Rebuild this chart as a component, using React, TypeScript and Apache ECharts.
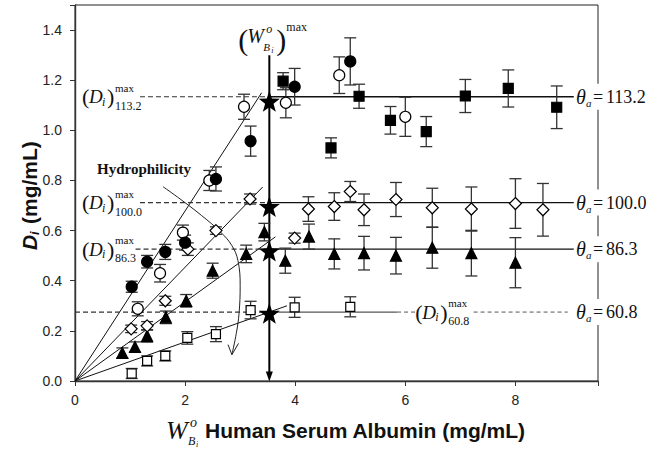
import React, { useEffect, useRef } from "react";
import * as echarts from "echarts";

type P = [number, number, number];

const X_TICKS = [0, 2, 4, 6, 8];
const Y_TICKS = [0, 0.2, 0.4, 0.6, 0.8, 1.0, 1.2, 1.4];

// [W (mg/mL), D (mg/mL), error]
const filledCircles: P[] = [
  [1.03, 0.376, 0.022], [1.31, 0.476, 0.025], [1.64, 0.515, 0.03], [2.0, 0.552, 0.03],
  [2.56, 0.806, 0.048], [3.19, 0.957, 0.06], [3.99, 1.174, 0.073], [5.0, 1.275, 0.094],
];
const openCircles: P[] = [
  [1.14, 0.288, 0.028], [1.545, 0.43, 0.035], [1.96, 0.592, 0.03], [2.44, 0.8, 0.04],
  [3.07, 1.094, 0.05], [3.83, 1.11, 0.06], [4.8, 1.22, 0.073], [6.0, 1.054, 0.078],
];
const filledSquares: P[] = [
  [3.78, 1.196, 0.034], [4.65, 0.93, 0.04], [5.16, 1.136, 0.048], [5.73, 1.04, 0.055],
  [6.38, 0.995, 0.06], [7.09, 1.137, 0.066], [7.87, 1.167, 0.074], [8.75, 1.092, 0.085],
];
const openDiamonds: P[] = [
  [1.02, 0.208, 0.015], [1.31, 0.22, 0.017], [1.64, 0.32, 0.018], [2.05, 0.526, 0.025],
  [2.56, 0.6, 0.015], [3.18, 0.726, 0.02], [3.99, 0.57, 0.02], [4.24, 0.686, 0.049],
  [4.71, 0.696, 0.055], [5.0, 0.756, 0.04], [5.25, 0.683, 0.063], [5.83, 0.724, 0.068],
  [6.49, 0.691, 0.078], [7.2, 0.686, 0.088], [8.0, 0.708, 0.099], [8.5, 0.683, 0.105],
];
const filledTriangles: P[] = [
  [0.86, 0.112, 0.02], [1.09, 0.136, 0.02], [1.31, 0.18, 0.025], [1.65, 0.254, 0.025],
  [2.02, 0.32, 0.025], [2.5, 0.44, 0.03], [3.11, 0.507, 0.035], [3.44, 0.594, 0.035],
  [3.82, 0.48, 0.05], [4.25, 0.576, 0.05], [4.71, 0.507, 0.06], [5.25, 0.51, 0.067],
  [5.83, 0.5, 0.073], [6.49, 0.532, 0.082], [7.2, 0.51, 0.091], [8.0, 0.472, 0.1],
];
const openSquares: P[] = [
  [1.03, 0.03, 0.02], [1.31, 0.08, 0.02], [1.64, 0.1, 0.02], [2.04, 0.172, 0.025],
  [2.56, 0.187, 0.03], [3.19, 0.283, 0.035], [3.99, 0.294, 0.04], [5.0, 0.296, 0.04],
];

const fitLineEnds: [number, number][] = [[3.39, 1.15], [3.41, 0.774], [3.64, 0.575], [3.85, 0.3]];
const W_MAX = 3.53;
const W_TOP = 1.3;
const starY = [1.116, 0.696, 0.519, 0.27];
const dMaxLevels = [1.134, 0.712, 0.526, 0.275];
const thetaLabels = ["113.2", "100.0", "86.3", "60.8"];
const dashStart = [1.18, 1.18, 1.1, 0];
const solidEnd = [9.06, 9.06, 9.06, 5.85];
const extraDash: [number, number][] = [[5.85, 6.18], [7.24, 8.95]];
const hydroCurve: [number, number][] = [
  [1.6, 0.775], [1.91, 0.726], [2.3, 0.66], [2.64, 0.595], [2.85, 0.54], [2.96, 0.48],
  [3.0, 0.38], [2.98, 0.27], [2.93, 0.19], [2.85, 0.105],
];
const arrowHead: [number, number][] = [[2.78, 0.145], [2.85, 0.105], [2.97, 0.15]];

const SERIF = "'Liberation Serif', 'Times New Roman', serif";
const SANS = "'Liberation Sans', Arial, sans-serif";
const STAR =
  "path://M0,-10L2.35,-3.24L9.51,-3.09L3.8,1.24L5.88,8.09L0,4.2L-5.88,8.09L-3.8,1.24L-9.51,-3.09L-2.35,-3.24Z";

const seg = (pts: number[][], color: string, width: number, type: any = "solid") => ({
  type: "line",
  data: pts,
  symbol: "none",
  silent: true,
  lineStyle: { color, width, type },
  z: 2,
});

const errSeries = (data: P[]) => ({
  type: "custom",
  data,
  z: 3,
  silent: true,
  encode: { x: 0, y: 1 },
  renderItem: (_p: any, api: any) => {
    const x = api.value(0), y = api.value(1), e = api.value(2);
    const hi = api.coord([x, y + e]);
    const lo = api.coord([x, y - e]);
    const w = 6;
    const st = { stroke: "#333", lineWidth: 1.3 };
    return {
      type: "group",
      children: [
        { type: "line", shape: { x1: hi[0], y1: hi[1], x2: lo[0], y2: lo[1] }, style: st },
        { type: "line", shape: { x1: hi[0] - w, y1: hi[1], x2: hi[0] + w, y2: hi[1] }, style: st },
        { type: "line", shape: { x1: lo[0] - w, y1: lo[1], x2: lo[0] + w, y2: lo[1] }, style: st },
      ],
    };
  },
});

const markers = (data: P[], symbol: string, size: number, filled: boolean) => ({
  type: "scatter",
  data: data.map((p) => [p[0], p[1]]),
  symbol,
  symbolSize: size,
  silent: true,
  z: 4,
  itemStyle: { color: filled ? "#000" : "#fff", borderColor: "#000", borderWidth: 1.2, opacity: 1 },
});

const tx = (x: number, y: number, text: string, size: number, o: any = {}) => ({
  type: "text",
  x,
  y,
  style: {
    text,
    font: `${o.it ? "italic " : ""}${o.b ? "bold " : ""}${size}px ${o.sans ? SANS : SERIF}`,
    fill: "#111",
    align: o.align || "left",
    verticalAlign: "middle",
  },
});

export default function App() {
  const ref = useRef<HTMLDivElement>(null);
  useEffect(() => {
    if (!ref.current) return;
    const chart = echarts.init(ref.current, undefined, { renderer: "svg" });
    const series: any[] = [];
    fitLineEnds.forEach((e) => series.push(seg([[0, 0], e], "#111", 1)));
    dMaxLevels.forEach((lv, i) => {
      series.push(seg([[dashStart[i], lv], [W_MAX, lv]], "#333", 1.2, [5, 3]));
      series.push(seg([[W_MAX, lv], [solidEnd[i], lv]], i === 3 ? "#555" : "#111", 1.3));
    });
    extraDash.forEach((d) => series.push(seg([[d[0], dMaxLevels[3]], [d[1], dMaxLevels[3]]], "#555", 1, [4, 3])));
    series.push(seg([[W_MAX, W_TOP], [W_MAX, 0.02]], "#000", 2));
    series.push({ ...seg(hydroCurve, "#222", 1), smooth: 0.4 });
    series.push(seg(arrowHead, "#222", 1));
    series.push({
      type: "scatter", data: [[W_MAX, 0.018]], symbol: "triangle", symbolRotate: 180,
      symbolSize: [7, 10], itemStyle: { color: "#000", opacity: 1 }, z: 5, silent: true,
    });
    [filledCircles, openCircles, filledSquares, openDiamonds, filledTriangles, openSquares].forEach((d) =>
      series.push(errSeries(d))
    );
    series.push(markers(openSquares, "rect", 9, false));
    series.push(markers(filledTriangles, "triangle", 11, true));
    series.push(markers(openDiamonds, "diamond", 12, false));
    series.push(markers(filledSquares, "rect", 10, true));
    series.push(markers(openCircles, "circle", 11, false));
    series.push(markers(filledCircles, "circle", 11, true));
    series.push({
      type: "scatter", data: starY.map((y) => [W_MAX, y]), symbol: STAR, symbolSize: 21,
      itemStyle: { color: "#000", opacity: 1 }, z: 6, silent: true,
    });

    const axisCommon = {
      axisLine: { show: true, lineStyle: { color: "#333", width: 1.4 } },
      axisTick: { show: true, length: 5, lineStyle: { color: "#333", width: 1 } },
      splitLine: { show: false },
    };
    chart.setOption({
      animation: false,
      grid: { left: 75, right: 62, top: 5, bottom: 71, show: true, borderColor: "#222", borderWidth: 1 },
      xAxis: {
        type: "value", min: 0, max: 9.5, interval: 2, ...axisCommon,
        axisLabel: {
          margin: 12, fontSize: 14, fontFamily: SANS, color: "#222",
          formatter: (v: number) => (X_TICKS.includes(v) ? String(v) : ""),
        },
      },
      yAxis: {
        type: "value", min: 0, max: 1.5, interval: 0.2, ...axisCommon,
        axisLabel: {
          margin: 13, fontSize: 14, fontFamily: SANS, color: "#222",
          formatter: (v: number) => (Y_TICKS.some((t) => Math.abs(t - v) < 1e-6) ? v.toFixed(1) : ""),
        },
      },
      series,
    });

    const px = (x: number, y: number) => chart.convertToPixel({ xAxisIndex: 0, yAxisIndex: 0 }, [x, y]) as number[];
    const graphic: any[] = [];
    const dLabel = (gx: number, gy: number, num: string) => ({
      type: "group", x: gx, y: gy, z: 100,
      children: [
        { type: "rect", shape: { x: -2, y: -13, width: num === "60.8" ? 56 : 1, height: 26 }, style: { fill: num === "60.8" ? "#fff" : "none" } },
        tx(0, 0, "(", 22),
        tx(7, 0, "D", 19, { it: true }),
        tx(20, 5, "i", 12, { it: true }),
        tx(25, 0, ")", 22),
        tx(33, -9, "max", 11),
        tx(33, 9, num, 12),
      ],
    });
    dMaxLevels.forEach((lv, i) => {
      const [, yy] = px(0, lv);
      graphic.push(dLabel(i === 3 ? px(6.18, lv)[0] : 82, yy, thetaLabels[i]));
      graphic.push({
        type: "group", x: 576, y: yy, z: 100,
        children: [
          { type: "rect", shape: { x: -3, y: -13, width: 80, height: 26 }, style: { fill: "#fff" } },
          tx(0, 0, "θ", 20, { it: true }),
          tx(10, 6, "a", 11, { it: true }),
          tx(17, 0, "=", 18),
          tx(30, 0, thetaLabels[i], 18),
        ],
      });
    });
    const [wx, wy] = px(W_MAX, W_TOP);
    graphic.push({
      type: "group", x: wx - 31, y: wy - 16, z: 100,
      children: [
        tx(0, 0, "(", 30),
        tx(9, -3, "W", 20, { it: true }),
        tx(28, -10, "o", 12, { it: true }),
        tx(25, 8, "B", 11, { it: true }),
        tx(33, 11, "i", 8, { it: true }),
        tx(38, 0, ")", 30),
        tx(48, -12, "max", 12),
      ],
    });
    const [hx, hy] = px(0.4, 0.847);
    graphic.push({ ...tx(hx, hy, "Hydrophilicity", 15, { b: true }), z: 100 });
    graphic.push({
      type: "group", x: 166, y: 430, z: 100,
      children: [
        tx(0, 0, "W", 26, { it: true }),
        tx(24, -8, "o", 14, { it: true }),
        tx(22, 11, "B", 12, { it: true }),
        tx(30, 14, "i", 8, { it: true }),
        tx(39, 0, "Human Serum Albumin (mg/mL)", 21, { b: true, sans: true }),
      ],
    });
    graphic.push({
      type: "group", x: 29, y: 250, rotation: Math.PI / 2, z: 100,
      children: [
        tx(0, 0, "D", 21, { b: true, it: true, sans: true }),
        tx(15, 5, "i", 13, { b: true, it: true, sans: true }),
        tx(26, 0, "(mg/mL)", 21, { b: true, sans: true }),
      ],
    });
    chart.setOption({ graphic });
    return () => chart.dispose();
  }, []);
  return <div ref={ref} style={{ width: 660, height: 452, position: "absolute", left: 0, top: 0 }} />;
}
